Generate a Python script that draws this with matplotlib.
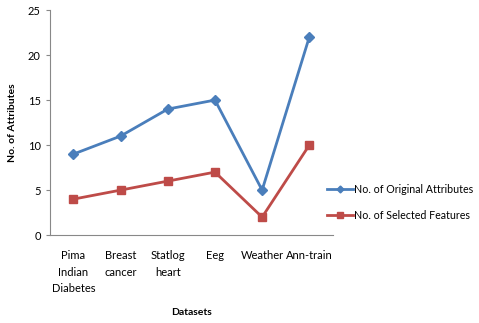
import matplotlib.pyplot as plt

plt.rcParams['font.family'] = ['Lato', 'DejaVu Sans']

datasets = ['Pima\nIndian\nDiabetes', 'Breast\ncancer', 'Statlog\nheart', 'Eeg', 'Weather', 'Ann-train']
original_attrs = [9, 11, 14, 15, 5, 22]
selected_feats = [4, 5, 6, 7, 2, 10]

fig = plt.figure(figsize=(4.79, 3.23), dpi=100)
ax = fig.add_axes([0.104, 0.272, 0.591, 0.697])

x = range(len(datasets))
ax.plot(x, original_attrs, color='#4A7EBB', lw=2, marker='D', ms=5, label='No. of Original Attributes')
ax.plot(x, selected_feats, color='#BE4B48', lw=2, marker='s', ms=6, label='No. of Selected Features')

ax.set_xlim(-0.5, 5.5)
ax.set_ylim(0, 25)
ax.set_yticks(range(0, 26, 5))
ax.set_xticks(list(x))
ax.set_xticklabels(datasets, fontsize=8, va='top', linespacing=1.6)
ax.tick_params(axis='x', length=0, pad=11)
ax.tick_params(axis='y', labelsize=8, length=3, color='#888888')

for s in ['top', 'right']:
    ax.spines[s].set_visible(False)
for s in ['left', 'bottom']:
    ax.spines[s].set_color('#888888')

ax.set_ylabel('No. of Attributes', fontsize=7.5, fontweight='bold', labelpad=8)
ax.set_xlabel('Datasets', fontsize=7.5, fontweight='bold')
ax.xaxis.set_label_coords(0.5, -0.325)

ax.legend(loc='center left', bbox_to_anchor=(0.945, 0.145), frameon=False, fontsize=7.7,
          handlelength=2.4, handletextpad=0.1, labelspacing=1.4, markerscale=0.7)

fig.savefig('out.png', dpi=100)
